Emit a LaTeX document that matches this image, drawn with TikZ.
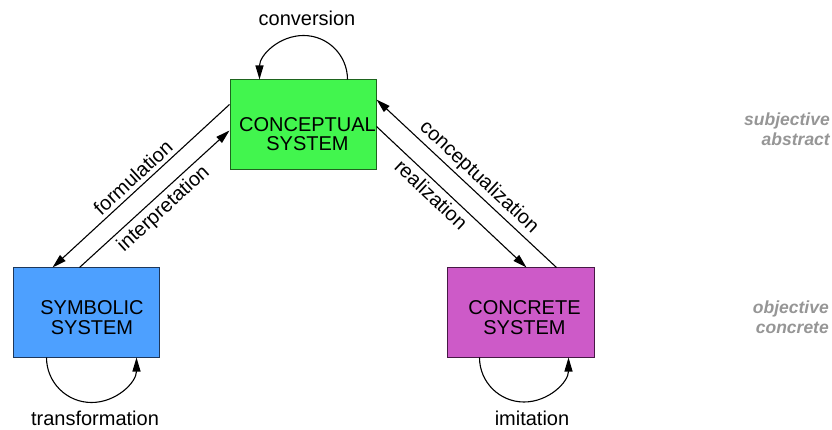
\documentclass[tikz,border=0pt]{standalone}
\usepackage{fontspec}
\setmainfont{Liberation Sans}
\usetikzlibrary{arrows.meta}
\definecolor{cgreen}{RGB}{66,245,78}
\definecolor{cgreenb}{RGB}{30,100,30}
\definecolor{cblue}{RGB}{77,160,255}
\definecolor{cblueb}{RGB}{30,55,90}
\definecolor{cpurple}{RGB}{205,90,200}
\definecolor{cpurpleb}{RGB}{70,25,68}
\definecolor{ctgray}{RGB}{150,150,150}
\begin{document}
\begin{tikzpicture}[x=1pt,y=1pt,
  sysbox/.style={draw, line width=1pt, minimum width=146pt, minimum height=89pt, inner sep=0pt},
  boxtext/.style={align=center, font=\fontsize{20}{19.5}\selectfont, inner sep=0pt},
  lbl/.style={font=\fontsize{20}{22}\selectfont, inner sep=0pt},
  side/.style={align=right, font=\fontsize{17.5}{20}\selectfont\bfseries\itshape, text=ctgray, inner sep=0pt},
  conn/.style={line width=1.1pt, -{Triangle[length=14pt,width=8pt]}},
  connr/.style={line width=1.1pt, {Triangle[length=14pt,width=8pt]}-}
]
\useasboundingbox (0,0) rectangle (832,-430);

\node[sysbox, fill=cgreen, draw=cgreenb, minimum height=90pt] (con) at (303,-125) {};
\node[sysbox, fill=cblue, draw=cblueb] (sym) at (86,-312.5) {};
\node[sysbox, fill=cpurple, draw=cpurpleb, minimum width=147pt] (cre) at (520.5,-312.5) {};

\node[boxtext] (contxt) at (307.5,-134) {CONCEPTUAL\\SYSTEM};
\node[boxtext] (symtxt) at (92,-317.5) {SYMBOLIC\\SYSTEM};
\node[boxtext] (cretxt) at (524.5,-317.5) {CONCRETE\\SYSTEM};

% loops
\draw[conn] ([xshift=118pt]con.north west) arc[start angle=0, end angle=180, radius=44pt];
\draw[conn] ([xshift=34pt]sym.south west) arc[start angle=180, end angle=360, radius=45pt];
\draw[conn] ([xshift=33pt]cre.south west) arc[start angle=180, end angle=360, radius=44.5pt];

\node[lbl] (lconv) at (307,-18) {conversion};
\node[lbl] (ltrans) at (95,-418) {transformation};
\node[lbl] (limit) at (532,-418) {imitation};

% connectors
\draw[connr] ([xshift=40pt]sym.north west) -- ([yshift=-25pt]con.north west)
  node[lbl, midway, sloped, above=4pt] (lform) {formulation};
\draw[conn] ([xshift=67pt]sym.north west) -- ([yshift=-51pt]con.north west)
  node[lbl, midway, sloped, below=4pt] (linterp) {interpretation};
\draw[conn] ([yshift=-47pt]con.north east) -- ([xshift=80pt]cre.north west)
  node[lbl, pos=0.42, sloped, below=4pt] (lreal) {realization};
\draw[connr] ([yshift=-20pt]con.north east) -- ([xshift=110pt]cre.north west)
  node[lbl, pos=0.52, sloped, above=3pt] (lconc) {conceptualization};

\node[side, anchor=east] (subj) at (830,-129) {subjective\\abstract};
\node[side, anchor=east] (obj) at (829,-317) {objective\\concrete};
\end{tikzpicture}
\end{document}
